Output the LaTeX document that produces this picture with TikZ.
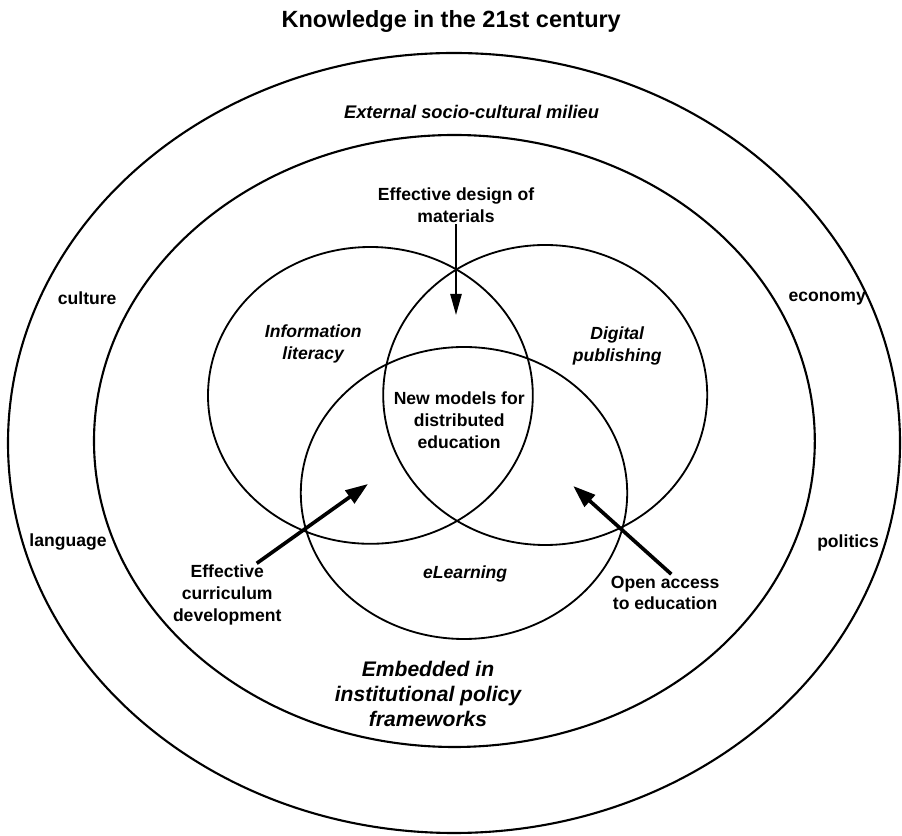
\documentclass[tikz,border=0pt]{standalone}
\usepackage{fontspec}
\setmainfont{Liberation Sans}
\usetikzlibrary{arrows.meta}

\begin{document}
\begin{tikzpicture}[
  font={\bfseries\fontsize{12.5}{15.5}\selectfont},
  ring/.style={line width=1.5pt},
  venn/.style={line width=1.3pt},
  note/.style={align=center, inner sep=1pt},
  area/.style={note, font={\bfseries\itshape\fontsize{12.5}{15.5}\selectfont}},
  pointer/.style={-{Triangle[length=15pt, width=8pt]}, line width=1.3pt},
  bigpointer/.style={-{Triangle[length=16pt, width=11pt]}, line width=2.6pt}
]

\useasboundingbox (0,0) rectangle (22.55,20.875);

% Outer milieu and institutional frame.
\draw[ring] (11.35,9.8) ellipse [x radius=11.15, y radius=9.75];
\draw[ring] (11.36,9.85) ellipse [x radius=9.01, y radius=7.65];

% Three overlapping fields.
\draw[venn] (9.26,10.99) ellipse [x radius=4.06, y radius=3.71];
\draw[venn] (13.63,11.0) ellipse [x radius=4.05, y radius=3.75];
\draw[venn] (11.6,8.55) ellipse [x radius=4.08, y radius=3.65];

% Headings.
\node[font={\bfseries\fontsize{16.7}{20}\selectfont}] (title) at (11.28,20.35)
  {Knowledge in the 21st century};
\node[area, font={\bfseries\itshape\fontsize{13}{15.5}\selectfont}] (milieu) at (11.79,18.075)
  {External socio-cultural milieu};
\node[area, font={\bfseries\itshape\fontsize{15}{17.5}\selectfont}] (policy) at (10.7,3.525)
  {Embedded in\\institutional policy\\frameworks};

% Milieu factors.
\node (culture) at (2.18,13.425) {culture};
\node (economy) at (20.68,13.4) {economy};
\node (language) at (1.7,7.325) {language};
\node (politics) at (21.2,7.3) {politics};

% Field names.
\node[area] (infolit) at (7.83,12.275) {Information\\literacy};
\node[area] (digpub) at (15.43,12.225) {Digital\\publishing};
\node[area] (elearn) at (11.63,6.525) {eLearning};
\node[note] (models) at (11.48,10.375) {New models for\\distributed\\education};

% Drivers and their pointers.
\node[note] (design) at (11.4,15.75) {Effective design of\\materials};
\node[note] (curric) at (5.68,6.0) {Effective\\curriculum\\development};
\node[note] (open) at (16.63,6.05) {Open access\\to education};

\coordinate (toptip) at (11.4,13.0);
\coordinate (lefttip) at (9.2,8.775);
\coordinate (righttip) at (14.33,8.725);

\draw[pointer] (design.south) -- (toptip);
\draw[bigpointer] (curric.47) -- (lefttip);
\draw[bigpointer] (open.72) -- (righttip);

\end{tikzpicture}
\end{document}
